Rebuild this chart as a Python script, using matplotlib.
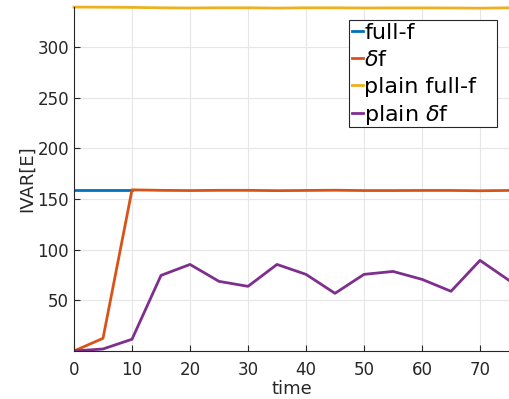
import numpy as np
import matplotlib
matplotlib.use('Agg')
import matplotlib.pyplot as plt
from matplotlib.patches import Rectangle

# data
time = [0, 5, 10, 15, 20, 25, 30, 35, 40, 45, 50, 55, 60, 65, 70, 75]
time_full = [0, 5, 10]
full_f = [159, 159, 159]
delta_f = [0, 12.5, 159, 158.5, 158.3, 158.5, 158.5, 158.2, 158.4, 158.6, 158.3, 158.3, 158.4, 158.4, 158.1, 158.4]
plain_full_f = [339.3, 339.2, 339.0, 338.6, 338.4, 338.6, 338.6, 338.3, 338.6, 338.6, 338.4, 338.5, 338.5, 338.4, 338.2, 338.6]
plain_delta_f = [0, 2, 11.6, 74.6, 85.4, 68.7, 63.8, 85.4, 75.6, 56.9, 75.6, 78.5, 70.7, 58.9, 89.4, 69.7]

W, H = 509, 399
fig = plt.figure(figsize=(W / 100, H / 100), dpi=100)
ax = fig.add_axes([0.1454, 0.1203, 0.8546, 0.8622])

lw = 2
ax.plot(time_full, full_f, color='#0072BD', lw=lw, label='full-f')
ax.plot(time, delta_f, color='#D95319', lw=lw, label=r'$\delta$f')
ax.plot(time, plain_full_f, color='#EDB120', lw=lw, label='plain full-f', clip_on=False)
ax.plot(time, plain_delta_f, color='#7E2F8E', lw=lw, label=r'plain $\delta$f')

ax.set_xlim(0, 75)
ax.set_ylim(0, 339.4)
ax.set_xticks(range(0, 80, 10))
ax.set_yticks(range(50, 350, 50))
ax.grid(True, color='#e6e6e6', lw=0.8)
ax.set_axisbelow(True)
for s in ['top', 'right']:
    ax.spines[s].set_visible(False)
for s in ['left', 'bottom']:
    ax.spines[s].set_color('#262626')
ax.tick_params(direction='in', colors='#262626', labelsize=12, length=4)
ax.tick_params(axis='x', pad=7)
ax.set_xlabel('time', fontsize=13, color='#262626', labelpad=1)
ax.set_ylabel('IVAR[E]', fontsize=13, color='#262626', labelpad=1)

# legend box (matlab style, wider than the text)
box = Rectangle((349 / W, 1 - 127 / H), 148 / W, 107 / H, transform=fig.transFigure,
                facecolor='white', edgecolor='#262626', lw=0.8, zorder=4, clip_on=False)
ax.add_patch(box)
leg = ax.legend(loc='upper left', bbox_to_anchor=(350 / W, 1 - 21 / H),
                bbox_transform=fig.transFigure, fontsize=16,
                handlelength=0.5, handletextpad=0.05, borderpad=0.1,
                labelspacing=0.3, borderaxespad=0, frameon=False)
leg.set_zorder(5)

fig.savefig('out.png', dpi=100)
